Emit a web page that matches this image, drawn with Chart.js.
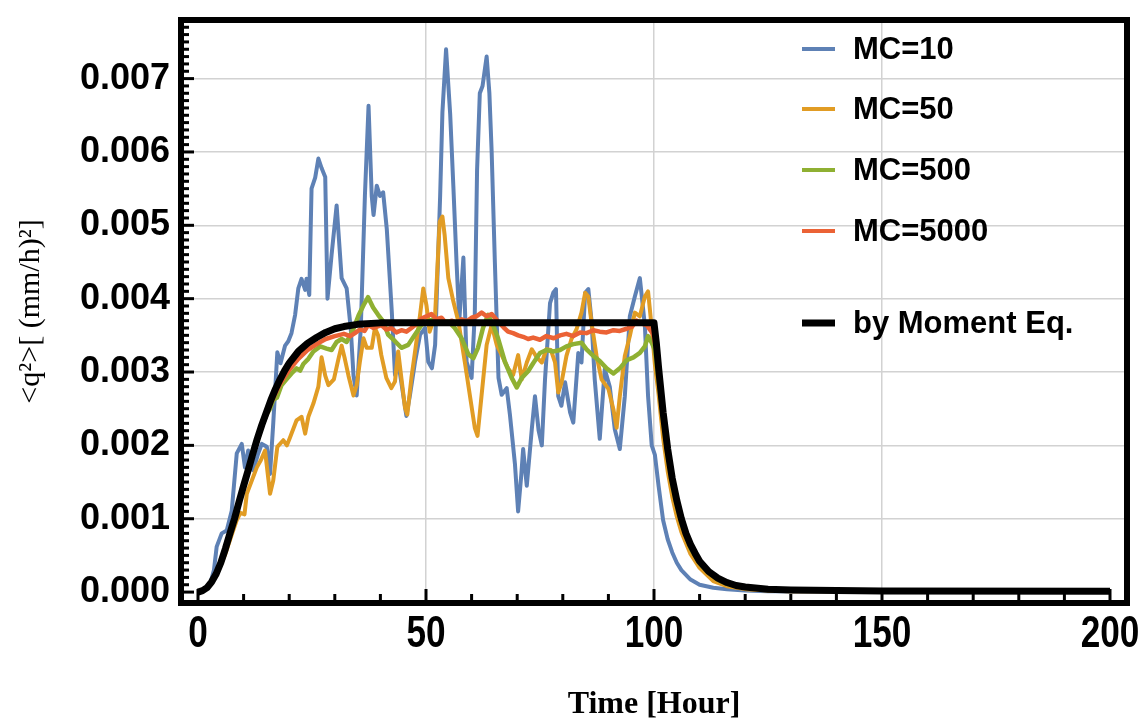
<!DOCTYPE html>
<html>
<head>
<meta charset="utf-8">
<script src="https://cdn.jsdelivr.net/npm/chart.js@4.4.1/dist/chart.umd.min.js"></script>
<style>
  html, body { margin: 0; padding: 0; background: #fff; }
  #wrap { width: 1143px; height: 718px; }
</style>
</head>
<body>
<div id="wrap"><canvas id="qChart" width="1143" height="718"></canvas></div>
<script>
// [time (h), <q^2>] pairs
const mc10 = [[0,0],[1.5,0.00003],[2.6,0.0001],[3.5,0.0003],[4.1,0.00062],[5.2,0.0008],[6.3,0.00084],[7.4,0.00111],[8.5,0.00189],[9.6,0.00202],[10.3,0.0017],[11,0.00193],[12.1,0.00166],[13.2,0.00189],[14,0.00202],[15.1,0.00198],[15.8,0.00161],[16.5,0.0023],[17.4,0.00327],[18.1,0.00312],[19.1,0.00336],[19.8,0.00342],[20.5,0.00353],[21.3,0.00378],[22,0.00414],[22.7,0.00427],[23.5,0.00412],[23.8,0.00427],[24.4,0.00405],[24.9,0.0055],[25.7,0.00565],[26.4,0.00591],[27.1,0.00578],[27.9,0.00566],[28.4,0.004],[29.3,0.0046],[30.4,0.00527],[31.5,0.00428],[32.6,0.00414],[33.5,0.00359],[34.1,0.00295],[34.8,0.00268],[35.7,0.0036],[36.6,0.0054],[37.4,0.00663],[38.1,0.0054],[38.5,0.00514],[39.2,0.00554],[39.9,0.0054],[40.6,0.00545],[41.4,0.00495],[42.5,0.00382],[43.2,0.00296],[43.9,0.00314],[45,0.00269],[45.7,0.0024],[46.5,0.00269],[47.6,0.00314],[48.7,0.00351],[49.8,0.0036],[50.5,0.00314],[51.3,0.00305],[52,0.00337],[53.1,0.0054],[53.6,0.00654],[54.4,0.0074],[55.3,0.00652],[56,0.00553],[56.7,0.00449],[57.3,0.0037],[58.2,0.00456],[58.9,0.00314],[60,0.00292],[60.7,0.0038],[61.2,0.00575],[61.8,0.0068],[62.4,0.0069],[63.3,0.0073],[63.9,0.0068],[64.4,0.006],[65.1,0.0045],[65.9,0.00292],[66.6,0.00269],[67.7,0.00278],[68.4,0.00242],[69.5,0.00175],[70.2,0.0011],[70.9,0.0016],[71.3,0.00195],[72.1,0.00145],[73.2,0.00222],[73.9,0.00267],[74.7,0.0022],[75.4,0.002],[76.1,0.0029],[77.2,0.00394],[77.9,0.00408],[78.5,0.00413],[79,0.00267],[79.7,0.00254],[80.5,0.00286],[81.6,0.00245],[82.3,0.00231],[83.4,0.00326],[84.1,0.00313],[84.9,0.00408],[85.6,0.00413],[86.3,0.0037],[87,0.0029],[88.1,0.00209],[89.2,0.00304],[90.3,0.0028],[91.4,0.00222],[92.5,0.00195],[93.6,0.00267],[94.7,0.00376],[95.8,0.00403],[96.9,0.00428],[98,0.00363],[98.7,0.00267],[99.5,0.002],[100.2,0.00187],[101,0.00145],[102,0.00098],[103,0.00072],[104,0.00054],[105,0.0004],[106,0.0003],[108,0.00017],[110,0.0001],[113,0.00006],[116,0.00004],[120,0.00002],[125,0.00001],[200,0.00001]];

const mc50 = [[0,0],[2,0.00006],[4,0.00022],[6,0.00052],[7.5,0.0008],[8.5,0.00098],[9.3,0.00108],[10.2,0.00106],[10.7,0.00134],[11.8,0.00152],[12.9,0.0017],[13.8,0.0018],[14.7,0.00193],[15.8,0.00134],[16.5,0.00152],[17.4,0.00198],[18.7,0.00207],[19.5,0.002],[20.2,0.00211],[21.6,0.00234],[22.7,0.00239],[23.5,0.00216],[24.2,0.00239],[25.3,0.00257],[26.4,0.0028],[27.1,0.0032],[27.9,0.00295],[28.6,0.00282],[29.8,0.0029],[30.8,0.00318],[31.5,0.00336],[32.2,0.00318],[33,0.00295],[34.1,0.00268],[34.8,0.00282],[35.5,0.00314],[36.3,0.00346],[37,0.00333],[38.1,0.00333],[38.8,0.0036],[39.5,0.0035],[40.2,0.00323],[41.3,0.00292],[42.4,0.00278],[43.2,0.00287],[43.9,0.00328],[44.6,0.00292],[45.4,0.00251],[45.9,0.00242],[46.8,0.00292],[47.6,0.00328],[48.7,0.00378],[49.4,0.00414],[50.1,0.00391],[50.8,0.00355],[52,0.00378],[53,0.00505],[53.6,0.00512],[54.1,0.00486],[54.9,0.00428],[56,0.00396],[57.1,0.00369],[58.5,0.00314],[59.6,0.00269],[60.7,0.00224],[61.3,0.00213],[62.2,0.00269],[63.3,0.00337],[64.4,0.00364],[65.5,0.00337],[66.6,0.00323],[68,0.00305],[69.1,0.00296],[70.2,0.00323],[71,0.0029],[72.1,0.00313],[73.2,0.00331],[74.3,0.0032],[75.4,0.00313],[76.4,0.00331],[77.4,0.0033],[78.3,0.00313],[79,0.00272],[79.7,0.00285],[80.8,0.00322],[81.9,0.00345],[83,0.00358],[84.1,0.00381],[84.9,0.00408],[85.6,0.00403],[86.3,0.00367],[87.4,0.00322],[88.5,0.0029],[90,0.00277],[91.1,0.00249],[91.8,0.00224],[92.5,0.00267],[93.6,0.00322],[94.7,0.00349],[95.8,0.00381],[96.9,0.00376],[98,0.00403],[98.7,0.0041],[99.5,0.0036],[100.2,0.0031],[101,0.0027],[102,0.0021],[103,0.00165],[104,0.0013],[105,0.00103],[106,0.00082],[108,0.00052],[110,0.00033],[113,0.00015],[116,0.00008],[120,0.00004],[125,0.00002],[130,0.00001],[200,0.00001]];

const mc500 = [[0,0],[2,0.00006],[4,0.00025],[6,0.00058],[8,0.00099],[10,0.00144],[12,0.00186],[14,0.00226],[15,0.00242],[15.8,0.0025],[16.5,0.00262],[17.3,0.00265],[18.3,0.00282],[19.4,0.0029],[20.5,0.00298],[21.6,0.00305],[22.4,0.00302],[23.1,0.00311],[24.2,0.00318],[25.3,0.00328],[26.8,0.00335],[28.2,0.00332],[29.3,0.0033],[30.4,0.00341],[31.5,0.00345],[32.6,0.00341],[34.1,0.00359],[35.2,0.00377],[36.3,0.00391],[37.3,0.00402],[38.4,0.00388],[39.5,0.00378],[40.6,0.00369],[41.7,0.00351],[43.2,0.00342],[44.6,0.00333],[46.1,0.00337],[47.6,0.00351],[49,0.00364],[50.5,0.00369],[51.9,0.00373],[53.4,0.00369],[54.9,0.00369],[56.3,0.0036],[57.8,0.00346],[59.3,0.00324],[60.4,0.00319],[61.4,0.00333],[62.5,0.0036],[63.6,0.00378],[64.7,0.00364],[65.8,0.00346],[67.3,0.00314],[68.8,0.00292],[69.9,0.00279],[71,0.00292],[72.4,0.00301],[73.5,0.00312],[75,0.00326],[76.4,0.0033],[77.9,0.00328],[79.4,0.0033],[80.8,0.00335],[82.3,0.00338],[84.1,0.0034],[85.2,0.00331],[86.7,0.00322],[88.1,0.00315],[89.6,0.00305],[91.1,0.00298],[92.5,0.00305],[94,0.00316],[95.5,0.0032],[96.9,0.00326],[98,0.00335],[98.7,0.00349],[99.5,0.0034],[100.2,0.0033],[101,0.0029],[102,0.00235],[103,0.00185],[104,0.00147],[105,0.00118],[106,0.00094],[108,0.0006],[110,0.00039],[112,0.00026],[114,0.00017],[116,0.00011],[120,0.00006],[125,0.00003],[130,0.00002],[150,0.00001],[200,0.00001]];

const mc5000 = [[0,0],[2,0.00006],[4,0.00025],[6,0.00058],[8,0.00099],[10,0.00144],[12,0.00186],[14,0.00226],[16,0.00258],[18,0.00284],[20,0.00303],[22,0.00318],[24,0.0033],[26,0.00338],[28,0.00345],[30,0.00349],[32,0.00352],[33.4,0.00349],[34.4,0.00353],[35.5,0.00358],[36.5,0.00356],[37.3,0.00364],[38.5,0.0036],[40.2,0.00364],[41.3,0.00358],[42.4,0.0036],[43.5,0.00354],[44.6,0.00357],[45.7,0.00355],[46.8,0.0036],[48,0.00366],[49,0.00373],[50.1,0.00376],[51.2,0.00379],[52.3,0.00372],[53.4,0.00374],[54.5,0.00366],[55.6,0.0037],[56.7,0.00367],[57.8,0.00372],[58.9,0.00369],[60,0.00374],[61.1,0.00376],[62.2,0.00381],[63.3,0.00376],[64.4,0.00379],[65.8,0.00369],[67,0.00361],[68,0.00355],[69.1,0.00353],[70.2,0.0035],[71.3,0.00348],[72.4,0.00345],[73.5,0.00347],[75,0.00344],[76.4,0.00349],[78,0.00346],[79.4,0.0035],[80.8,0.00352],[82.3,0.00349],[83.8,0.00354],[85.2,0.00353],[86.7,0.00357],[88.1,0.00355],[89.6,0.00354],[91.1,0.00357],[92.5,0.00356],[94,0.00359],[95.2,0.00362],[96.2,0.0037],[97.3,0.00366],[98.4,0.00364],[99.8,0.00352],[100.5,0.0033],[101,0.003],[102,0.0024],[103,0.0019],[104,0.00151],[105,0.00121],[106,0.00097],[108,0.00063],[110,0.00041],[112,0.00027],[114,0.00018],[116,0.00012],[120,0.00006],[125,0.00003],[130,0.00002],[150,0.00001],[200,0.00001]];

const momentEq = [[0,0],[1,0.00002],[2,0.00006],[3,0.00014],[4,0.00025],[5,0.0004],[6,0.00059],[7,0.0008],[8,0.001],[9,0.00123],[10,0.00145],[11,0.00166],[12,0.00188],[13,0.00209],[14,0.00228],[15,0.00245],[16,0.00262],[17,0.00277],[18,0.0029],[19,0.00302],[20,0.00312],[22,0.00328],[24,0.00339],[26,0.00347],[28,0.00354],[30,0.00359],[32,0.00362],[35,0.00365],[40,0.00367],[100,0.00367],[100.5,0.0034],[101,0.00306],[102,0.00245],[103,0.00195],[104,0.00155],[105,0.00125],[106,0.001],[107,0.0008],[108,0.00065],[109,0.00053],[110,0.00042],[112,0.00028],[114,0.00019],[116,0.00013],[118,0.00009],[120,0.00007],[125,0.00004],[130,0.00003],[140,0.00002],[150,0.000015],[200,0.00001]];

const seriesNames = ['MC=10', 'MC=50', 'MC=500', 'MC=5000', 'by Moment Eq.'];
const seriesColors = ['#5E81B5', '#E19C24', '#8FB032', '#EB6235', '#000000'];
const seriesWidths = [4, 4, 4.5, 4.5, 7];
const xTickLabels = [0, 50, 100, 150, 200];
const yTickLabels = [0, 0.001, 0.002, 0.003, 0.004, 0.005, 0.006, 0.007];
const xGridAt = [50, 100, 150];

function toPts(arr) {
    return arr.map(function (p) { return { x: p[0], y: p[1] }; });
}

// frame, inward ticks, condensed x labels and the in-plot legend
const frameAndLegend = {
    id: 'frameAndLegend',
    afterDraw: function (chart) {
        const ctx = chart.ctx;
        const a = chart.chartArea;
        const xs = chart.scales.x, ys = chart.scales.y;
        ctx.save();
        ctx.strokeStyle = '#000';
        ctx.lineWidth = 3;
        for (let t = 0; t <= 200; t += 10) {
            const px = xs.getPixelForValue(t);
            const len = t % 50 === 0 ? 11 : 6;
            ctx.beginPath();
            ctx.moveTo(px, a.bottom);
            ctx.lineTo(px, a.bottom - len);
            ctx.stroke();
        }
        for (let i = 0; i <= 77; i++) {
            const py = ys.getPixelForValue(i / 10000);
            const len = i % 10 === 0 ? 10 : 5;
            ctx.beginPath();
            ctx.moveTo(a.left, py);
            ctx.lineTo(a.left + len, py);
            ctx.stroke();
        }
        ctx.lineWidth = 6;
        ctx.strokeRect(a.left - 3, a.top - 3, a.right - a.left + 6, a.bottom - a.top + 6);

        // x tick labels, narrow bold
        ctx.fillStyle = '#000';
        ctx.font = 'bold 44px "Liberation Sans", Arial, sans-serif';
        ctx.textAlign = 'center';
        ctx.textBaseline = 'middle';
        xTickLabels.forEach(function (v) {
            ctx.save();
            ctx.translate(xs.getPixelForValue(v), 635);
            ctx.scale(0.8, 1);
            ctx.fillText(String(v), 0, 0);
            ctx.restore();
        });

        // legend
        const rowY = [49, 109, 170, 231, 323];
        ctx.font = 'bold 31px "Liberation Sans", Arial, sans-serif';
        ctx.textAlign = 'left';
        chart.data.datasets.forEach(function (ds, i) {
            ctx.strokeStyle = ds.borderColor;
            ctx.lineWidth = i === 4 ? 7 : 4;
            ctx.beginPath();
            ctx.moveTo(802, rowY[i]);
            ctx.lineTo(835, rowY[i]);
            ctx.stroke();
            ctx.fillText(ds.label, 853, rowY[i] + 1);
        });
        ctx.restore();
    }
};

const allSeries = [mc10, mc50, mc500, mc5000, momentEq];
const drawOrder = [4, 3, 2, 1, 0];

const ctx = document.getElementById('qChart').getContext('2d');
const qChart = new Chart(ctx, {
    type: 'line',
    data: {
        datasets: allSeries.map(function (s, i) {
            return {
                label: seriesNames[i],
                data: toPts(s),
                borderColor: seriesColors[i],
                backgroundColor: seriesColors[i],
                borderWidth: seriesWidths[i],
                borderJoinStyle: 'round',
                pointRadius: 0,
                tension: 0,
                fill: false,
                order: drawOrder[i]
            };
        })
    },
    options: {
        responsive: false,
        animation: false,
        layout: { padding: { left: 0, right: 19, top: 19, bottom: 0 } },
        plugins: {
            legend: { display: false },
            tooltip: { enabled: false }
        },
        scales: {
            x: {
                type: 'linear',
                min: -3.07,
                max: 203.07,
                afterFit: function (s) { s.height = 118; },
                afterBuildTicks: function (s) {
                    s.ticks = xTickLabels.map(function (v) { return { value: v }; });
                },
                grid: {
                    drawTicks: false,
                    lineWidth: 1.5,
                    color: function (c) {
                        return c.tick && xGridAt.indexOf(c.tick.value) >= 0 ? '#d2d2d2' : 'rgba(0,0,0,0)';
                    }
                },
                border: { display: false },
                ticks: { display: false },
                title: {
                    display: true,
                    text: 'Time [Hour]',
                    color: '#000',
                    padding: { top: 0, bottom: 0 },
                    font: { family: '"Liberation Serif", "Times New Roman", serif', size: 32, weight: 'bold', lineHeight: 0.8 }
                }
            },
            y: {
                min: -0.000108,
                max: 0.007758,
                afterFit: function (s) { s.width = 184; },
                afterBuildTicks: function (s) {
                    s.ticks = yTickLabels.map(function (v) { return { value: v }; });
                },
                grid: {
                    drawTicks: false,
                    lineWidth: 1.5,
                    color: function (c) {
                        return c.tick && c.tick.value > 0 ? '#d2d2d2' : 'rgba(0,0,0,0)';
                    }
                },
                border: { display: false },
                ticks: {
                    autoSkip: false,
                    padding: 14,
                    color: '#000',
                    font: { family: '"Liberation Sans", Arial, sans-serif', size: 36, weight: 'bold', lineHeight: 0.5 },
                    callback: function (v) { return Number(v).toFixed(3); }
                },
                title: {
                    display: true,
                    text: '<q²>[ (mm/h)²]',
                    color: '#000',
                    padding: { top: 13, bottom: 0 },
                    font: { family: '"Liberation Serif", "Times New Roman", serif', size: 30, lineHeight: 1.2 }
                }
            }
        }
    },
    plugins: [frameAndLegend]
});
</script>
</body>
</html>
